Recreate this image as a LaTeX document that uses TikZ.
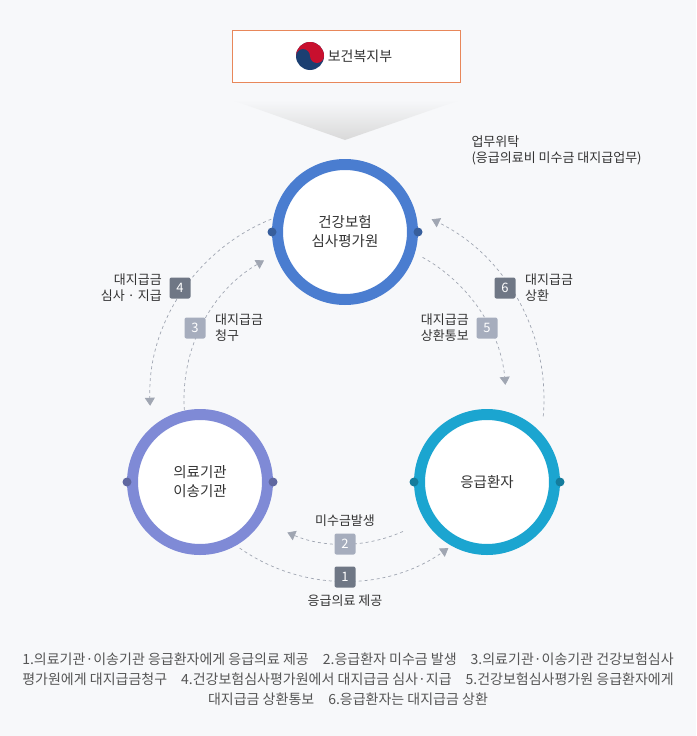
\documentclass[tikz,border=0pt]{standalone}
\usepackage{fontspec}
\setmainfont{Noto Sans CJK KR}
\usetikzlibrary{positioning,arrows.meta}
\definecolor{bgc}{HTML}{F7F8FA}
\definecolor{topc}{HTML}{4A7DD0}
\definecolor{leftc}{HTML}{7F8AD6}
\definecolor{rightc}{HTML}{1BA5D0}
\definecolor{darkbadge}{HTML}{6F7785}
\definecolor{lightbadge}{HTML}{A6ADBD}
\definecolor{txt}{HTML}{333333}
\definecolor{note}{HTML}{555555}
\definecolor{dashc}{HTML}{A0A6B2}
\definecolor{boxline}{HTML}{E8875A}
\definecolor{logored}{HTML}{C8102E}
\definecolor{logoblue}{HTML}{1B3F72}
\tikzset{
  ring/.style={circle, draw=#1, line width=11pt, fill=white, minimum size=135pt, align=center, font=\fontsize{14.5}{19}\selectfont, text=txt},
  badge/.style={fill=#1, rounded corners=2pt, minimum size=21pt, inner sep=0pt, text=white, font=\fontsize{13}{13}\selectfont},
  lbl/.style={font=\fontsize{13}{16}\selectfont, text=txt, align=#1},
  flow/.style={draw=dashc, dashed, line width=0.7pt, -{Triangle[length=8pt,width=10pt]}},
  dot/.style={circle, fill=#1, minimum size=9pt, inner sep=0pt},
}
\begin{document}
\begin{tikzpicture}[x=1pt,y=-1pt]
\fill[bgc] (0,0) rectangle (696,736);
\useasboundingbox (0,0) rectangle (696,736);

% ministry box
\shade[top color=bgc, bottom color=gray!30] (232,100) -- (460,100) -- (345,140) -- cycle;
\node[draw=boxline, fill=white, minimum width=228pt, minimum height=52pt, line width=0.8pt] (mohw) at (346,56) {};
\fill[logoblue] (310,56) circle (14);
\fill[logored] (296,56) arc (180:360:14) arc (0:180:7) arc (0:-180:7) -- cycle;
\node[lbl=left, font=\fontsize{14}{16}\selectfont] (mohwtext) at (360,56) {보건복지부};

% circles
\node[ring=topc] (hira) at (345,232) {건강보험\\심사평가원};
\node[ring=leftc] (hosp) at (200,482) {의료기관\\이송기관};
\node[ring=rightc] (patient) at (487,482) {응급환자};
\foreach \n/\c in {hira/topc,hosp/leftc,patient/rightc}{
  \node[dot=\c!75!black] at (\n.west) {};
  \node[dot=\c!75!black] at (\n.east) {};
}

\node[lbl=left, anchor=west] (entrust) at (468,150) {업무위탁\\(응급의료비 미수금 대지급업무)};

% flows
\coordinate (c) at (344,399);
\draw[flow] ([shift={(-112:194)}]c) arc (-112:-182:194);
\draw[flow] ([shift={(-184:160)}]c) arc (-184:-120:160);
\draw[flow] ([shift={(5:200)}]c) arc (5:-64:200);
\draw[flow] ([shift={(-61:162)}]c) arc (-61:-5:162);
\draw[flow] ([shift={(125:182)}]c) arc (125:55:182);
\draw[flow] ([shift={(66:145)}]c) arc (66:113:145);

% badges
\node[badge=darkbadge] (b4) at (180,288) {4};
\node[badge=lightbadge] (b3) at (195,328) {3};
\node[badge=darkbadge] (b6) at (505,288) {6};
\node[badge=lightbadge] (b5) at (487,328) {5};
\node[badge=lightbadge] (b2) at (345,544) {2};
\node[badge=darkbadge] (b1) at (345,577) {1};

\node[lbl=right, left=4pt of b4] (l4) {대지급금\\심사 · 지급};
\node[lbl=left, right=6pt of b3] (l3) {대지급금\\청구};
\node[lbl=left, right=6pt of b6] (l6) {대지급금\\상환};
\node[lbl=right, left=4pt of b5] (l5) {대지급금\\상환통보};
\node[lbl=center, above=3pt of b2] (l2) {미수금발생};
\node[lbl=center, below=4pt of b1] (l1) {응급의료 제공};

% notes
\node[font=\fontsize{14}{20}\selectfont, text=note, align=center] (notes) at (348,679)
 {1.의료기관·이송기관 응급환자에게 응급의료 제공\quad 2.응급환자 미수금 발생\quad 3.의료기관·이송기관 건강보험심사\\
 평가원에게 대지급금청구\quad 4.건강보험심사평가원에서 대지급금 심사·지급\quad 5.건강보험심사평가원 응급환자에게\\
 대지급금 상환통보\quad 6.응급환자는 대지급금 상환};
\end{tikzpicture}
\end{document}
